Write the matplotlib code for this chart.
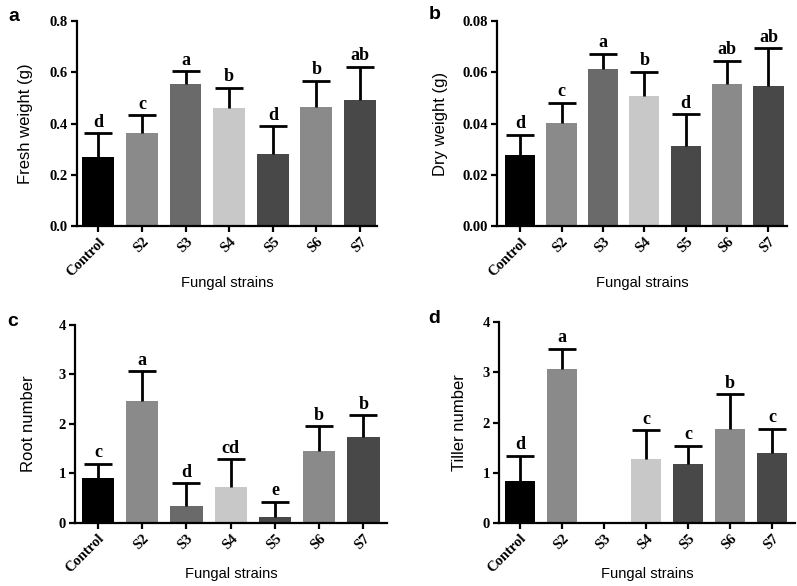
import numpy as np
import matplotlib
matplotlib.use('Agg')
import matplotlib.pyplot as plt

# --- Datos ---
cepas = ['Control', 'S2', 'S3', 'S4', 'S5', 'S6', 'S7']
colores = ['#000000', '#8a8a8a', '#6a6a6a', '#c8c8c8', '#484848', '#8a8a8a', '#484848']

peso_fresco = [0.270, 0.362, 0.553, 0.462, 0.280, 0.463, 0.493]
peso_fresco_sd = [0.092, 0.071, 0.052, 0.078, 0.110, 0.105, 0.129]
letras_fresco = ['d', 'c', 'a', 'b', 'd', 'b', 'ab']

peso_seco = [0.0279, 0.0402, 0.0613, 0.0506, 0.0312, 0.0554, 0.0546]
peso_seco_sd = [0.0078, 0.0079, 0.0059, 0.0096, 0.0125, 0.0092, 0.0148]
letras_seco = ['d', 'c', 'a', 'b', 'd', 'ab', 'ab']

raices = [0.90, 2.46, 0.34, 0.73, 0.115, 1.45, 1.73]
raices_sd = [0.30, 0.60, 0.47, 0.56, 0.315, 0.50, 0.45]
letras_raices = ['c', 'a', 'd', 'cd', 'e', 'b', 'b']

macollos = [0.83, 3.06, 0.0, 1.27, 1.17, 1.88, 1.39]
macollos_sd = [0.51, 0.41, 0.0, 0.58, 0.37, 0.68, 0.49]
letras_macollos = ['d', 'a', '', 'c', 'c', 'b', 'c']

plt.rcParams['font.family'] = ['Liberation Sans', 'DejaVu Sans']
serif = ['Liberation Serif', 'DejaVu Serif']

fig = plt.figure(figsize=(7.97, 5.86), dpi=100)

paneles = [
    # pos, datos, sd, letras, ylabel, yticks, fmt, letra panel, xlim, pos letra, y xlabel, x ylabel
    ([0.0966, 0.614, 0.377, 0.350], peso_fresco, peso_fresco_sd, letras_fresco,
     'Fresh weight (g)', np.arange(0, 0.81, 0.2), '{:.1f}', 'a', (-0.49, 6.4), (0.010, 0.987), -0.275, -0.172),
    ([0.6236, 0.614, 0.364, 0.350], peso_seco, peso_seco_sd, letras_seco,
     'Dry weight (g)', np.arange(0, 0.081, 0.02), '{:.2f}', 'b', (-0.56, 6.45), (0.538, 0.990), -0.275, -0.195),
    ([0.094, 0.1075, 0.392, 0.338], raices, raices_sd, letras_raices,
     'Root number', np.arange(0, 4.1, 1), '{:.0f}', 'c', (-0.52, 6.54), (0.009, 0.466), -0.255, -0.147),
    ([0.626, 0.1075, 0.372, 0.343], macollos, macollos_sd, letras_macollos,
     'Tiller number', np.arange(0, 4.1, 1), '{:.0f}', 'd', (-0.5, 6.56), (0.537, 0.471), -0.255, -0.133),
]

x = np.arange(len(cepas))
for pos, vals, sd, letras, ylab, yt, fmt, letra, xl, lpos, ylx, xly in paneles:
    ax = fig.add_axes(pos)
    vals = np.array(vals)
    sd = np.array(sd)
    ax.bar(x, vals, width=0.73, color=colores, zorder=2)
    m = vals > 0
    eb = ax.errorbar(x[m], vals[m], yerr=[np.zeros(m.sum()), sd[m]], fmt='none',
                     ecolor='black', elinewidth=2.0, capsize=10, capthick=2.0, zorder=3)
    # solo el cap superior
    eb[1][0].set_visible(False)
    ymax = yt[-1]
    for xi, v, s, l in zip(x, vals, sd, letras):
        if l:
            ax.text(xi, v + s + ymax * 0.012, l, ha='center', va='bottom',
                    family=serif, fontweight='bold', fontsize=13)
    ax.set_ylim(0, ymax)
    ax.set_xlim(*xl)
    ax.set_yticks(yt)
    ax.set_yticklabels([fmt.format(t) for t in yt], family=serif, fontweight='bold', fontsize=10.5)
    ax.set_xticks(x)
    ax.set_xticklabels(cepas, rotation=45, ha='right', rotation_mode='anchor',
                       family=serif, fontweight='bold', fontsize=10.5)
    ax.set_ylabel(ylab, fontsize=12, va='center')
    ax.yaxis.set_label_coords(xly, 0.5)
    ax.set_xlabel('Fungal strains', fontsize=10.5, va='center')
    ax.xaxis.set_label_coords(0.5, ylx)
    for lado in ['top', 'right']:
        ax.spines[lado].set_visible(False)
    for lado in ['left', 'bottom']:
        ax.spines[lado].set_linewidth(1.6)
    ax.tick_params(axis='both', direction='out', width=1.6, length=4.5, pad=2)
    fig.text(lpos[0], lpos[1], letra, ha='left', va='top', fontsize=14, fontweight='bold')

fig.savefig('out.png', dpi=100)
